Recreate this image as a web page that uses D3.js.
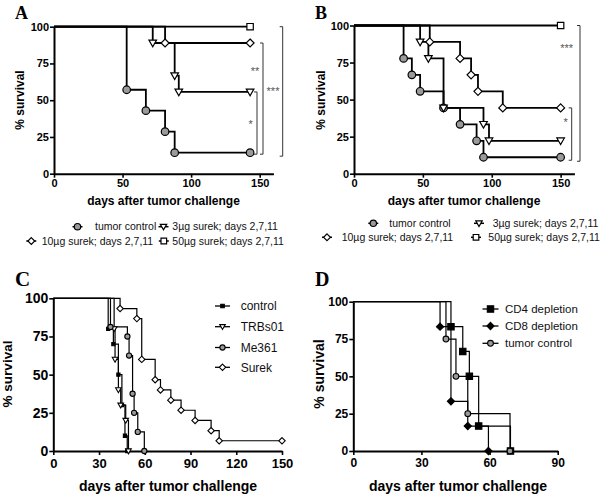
<!DOCTYPE html>
<html><head><meta charset="utf-8">
<script src="https://cdn.jsdelivr.net/npm/d3@7"></script>
<style>body{margin:0;background:#fff}</style>
</head><body>
<svg id="c" width="600" height="496"></svg>
<script>
// ---------- Panel A ----------
const aNames = ["tumor control", "3µg surek; days 2,7,11", "10µg surek; days 2,7,11", "50µg surek; days 2,7,11"];
const aTumorDays = [0, 53, 67, 81, 88, 143];
const aTumorSurv = [100, 57.1, 42.9, 28.6, 14.3, 14.3];
const a3Days = [0, 72, 88, 91, 143];
const a3Surv = [100, 88.9, 66.7, 55.6, 55.6];
const a10Days = [0, 81, 143];
const a10Surv = [100, 88.9, 88.9];
const a50Days = [0, 143];
const a50Surv = [100, 100];
const aXTicks = [0, 50, 100, 150];
const aSigLabels = ["*", "**", "***"];
const aSigFrom = [55.6, 88.9, 100];
const aSigTo = [14.3, 14.3, 14.3];

// ---------- Panel B ----------
const bNames = aNames;
const bTumorDays = [0, 36, 42, 48, 65, 77, 89, 94, 150];
const bTumorSurv = [100, 77.8, 66.7, 55.6, 44.4, 33.3, 22.2, 11.1, 11.1];
const b3Days = [0, 48, 54, 65, 94, 98, 150];
const b3Surv = [100, 88.9, 77.8, 44.4, 33.3, 22.2, 22.2];
const b10Days = [0, 55, 77, 85, 90, 108, 150];
const b10Surv = [100, 88.9, 77.8, 66.7, 55.6, 44.4, 44.4];
const b50Days = [0, 150];
const b50Surv = [100, 100];
const bXTicks = [0, 50, 100, 150];
const bSigLabels = ["***", "*"];
const bSigFrom = [100, 44.4];
const bSigTo = [11.1, 11.1];

// ---------- Panel C ----------
const cNames = ["control", "TRBs01", "Me361", "Surek"];
const cCtrlDays = [0, 36, 39.4, 42.7, 45, 47, 48.5];
const cCtrlSurv = [100, 80, 70, 50, 30, 10, 0];
const cTrbDays = [0, 39.9, 40.5, 42.7, 44.2, 47.5, 49.3];
const cTrbSurv = [100, 80, 60, 40, 30, 20, 0];
const cMeDays = [0, 37.5, 48.6, 49.7, 52, 53, 55.4, 59.7];
const cMeSurv = [100, 81.25, 75, 62.5, 37.5, 25, 12.5, 0];
const cSurekDays = [0, 43.8, 54.8, 58, 66.8, 70.3, 77.1, 83.8, 93, 103.5, 108.8, 150];
const cSurekSurv = [100, 93.3, 86.7, 60, 46.7, 40, 33.3, 26.7, 20, 13.3, 6.7, 6.7];
const cXTicks = [0, 30, 60, 90, 120, 150];

// ---------- Panel D ----------
const dNames = ["CD4 depletion", "CD8 depletion", "tumor control"];
const dCd4Days = [0, 43, 48.2, 51.1, 55.2, 69.2];
const dCd4Surv = [100, 83.3, 66.7, 50, 16.7, 0];
const dCd8Days = [0, 38.2, 43, 50.4, 59.5];
const dCd8Surv = [100, 83.3, 33.3, 16.7, 0];
const dTcDays = [0, 40.8, 45.2, 50.4, 69];
const dTcSurv = [100, 75, 50, 25, 0];
const dXTicks = [0, 30, 60, 90];

const yTicks = [0, 25, 50, 75, 100];
const xTitle = "days after tumor challenge";
const yTitle = "% survival";

const svg = d3.select("#c");
const SANS = "'Liberation Sans', Arial, sans-serif";
const SERIF = "'Liberation Serif', 'Times New Roman', serif";
const GRAY = "#9a9a9a";

function symPath(type, s) {
  if (type === "tri") return `M${-s},${-s * 0.75}L${s},${-s * 0.75}L0,${s}Z`;
  if (type === "diamond") return `M0,${-s}L${s},0L0,${s}L${-s},0Z`;
  if (type === "square") return `M${-s},${-s}H${s}V${s}H${-s}Z`;
  return "";
}
function marker(g, type, x, y, s, fill, sw) {
  if (type === "circle") {
    g.append("circle").attr("cx", x).attr("cy", y).attr("r", s)
      .attr("fill", fill).attr("stroke", "#000").attr("stroke-width", sw);
  } else {
    g.append("path").attr("d", symPath(type, s)).attr("transform", `translate(${x},${y})`)
      .attr("fill", fill).attr("stroke", "#000").attr("stroke-width", sw).attr("stroke-linejoin", "miter");
  }
}

function panel(cfg) {
  const x = d3.scaleLinear().domain(cfg.xDomain).range(cfg.xRange);
  const y = d3.scaleLinear().domain([0, 100]).range(cfg.yRange);
  const g = svg.append("g");

  const ya = g.append("g").attr("transform", `translate(${cfg.xRange[0]},0)`)
    .call(d3.axisLeft(y).tickValues(yTicks).tickSize(4).tickPadding(cfg.yPad).tickSizeOuter(0));
  const xa = g.append("g").attr("transform", `translate(0,${cfg.yRange[0]})`)
    .call(d3.axisBottom(x).tickValues(cfg.xTicks).tickSize(4).tickPadding(cfg.xPad).tickSizeOuter(0));
  [ya, xa].forEach(a => {
    a.select(".domain").attr("stroke-width", cfg.axisW).attr("stroke", "#000");
    a.selectAll(".tick line").attr("stroke-width", cfg.axisW * 0.8).attr("stroke", "#000");
    a.selectAll("text").attr("font-family", SANS).attr("font-weight", "bold")
      .attr("font-size", cfg.tickFont).attr("fill", "#000");
  });
  ya.selectAll("text").attr("font-size", cfg.yTickFont || cfg.tickFont);

  // titles
  g.append("text").attr("x", cfg.xTitlePos[0]).attr("y", cfg.xTitlePos[1]).attr("text-anchor", "middle")
    .attr("font-family", SANS).attr("font-weight", "bold").attr("font-size", cfg.titleFont).text(xTitle);
  g.append("text").attr("transform", `translate(${cfg.yTitlePos[0]},${cfg.yTitlePos[1]}) rotate(-90)`)
    .attr("text-anchor", "middle").attr("font-family", SANS).attr("font-weight", "bold")
    .attr("font-size", cfg.yTitleFont || cfg.titleFont).text(yTitle);
  g.append("text").attr("x", cfg.letterPos[0]).attr("y", cfg.letterPos[1])
    .attr("font-family", SERIF).attr("font-weight", "bold").attr("font-size", cfg.letterFont).text(cfg.letter);

  const line = d3.line().x(d => x(d[0])).y(d => y(d[1])).curve(d3.curveStepAfter);
  cfg.series.forEach(s => {
    const pts = s.days.map((d, i) => [d, s.surv[i]]);
    g.append("path").attr("d", line(pts)).attr("fill", "none").attr("stroke", "#000")
      .attr("stroke-width", cfg.lineW);
  });
  cfg.series.forEach(s => {
    s.days.forEach((d, i) => {
      if (i === 0) return;
      marker(g, s.type, x(d), y(s.surv[i]), s.size, s.fill, cfg.markW);
    });
  });

  // legend
  cfg.series.forEach((s, i) => {
    const [lx, ly, tx] = cfg.legendPos[i];
    g.append("line").attr("x1", lx - cfg.legHalf).attr("x2", lx + cfg.legHalf).attr("y1", ly).attr("y2", ly)
      .attr("stroke", "#000").attr("stroke-width", cfg.legLineW);
    marker(g, s.type, lx, ly, s.legSize || s.size, s.fill, cfg.markW);
    g.append("text").attr("x", tx).attr("y", ly).attr("dy", "0.36em").attr("font-family", SANS)
      .attr("font-size", cfg.legFont).attr("fill", "#111").text(s.name);
  });

  // significance brackets
  if (cfg.sig) {
    cfg.sig.labels.forEach((lab, i) => {
      const bx = cfg.sig.bx[i];
      const y1 = y(cfg.sig.from[i]), y2 = y(cfg.sig.to[i]) + cfg.sig.extra[i];
      g.append("path").attr("d", `M${bx - 3},${y1}H${bx}V${y2}H${bx - 3}`)
        .attr("fill", "none").attr("stroke", "#333").attr("stroke-width", 1);
      g.append("text").attr("x", cfg.sig.lx[i]).attr("y", cfg.sig.ly[i]).attr("text-anchor", "middle")
        .attr("font-family", SANS).attr("font-size", 11).attr("fill", "#555").text(lab);
    });
  }
}

// Panel A
panel({
  letter: "A", letterPos: [15, 18.5], letterFont: 18,
  xDomain: [0, 160], xRange: [54, 273.4], yRange: [173.7, 26.7], xTicks: aXTicks,
  xPad: 2, yPad: 1, axisW: 2, tickFont: 11, titleFont: 12, lineW: 1.8, markW: 1.2,
  xTitlePos: [163.5, 205], yTitlePos: [24, 100],
  series: [
    { name: aNames[0], days: aTumorDays, surv: aTumorSurv, type: "circle", size: 3.8, fill: GRAY, legSize: 3.2 },
    { name: aNames[1], days: a3Days, surv: a3Surv, type: "tri", size: 3.8, fill: "#fff", legSize: 3.2 },
    { name: aNames[2], days: a10Days, surv: a10Surv, type: "diamond", size: 4, fill: "#fff", legSize: 3.4 },
    { name: aNames[3], days: a50Days, surv: a50Surv, type: "square", size: 3.2, fill: "#fff", legSize: 2.8 }
  ],
  legendPos: [[77.5, 226.7, 95], [163.5, 226.7, 172.3], [31.3, 241, 41.7], [163.8, 241, 172.3]],
  legHalf: 5, legLineW: 1.5, legFont: 10.5,
  sig: { labels: aSigLabels, from: aSigFrom, to: aSigTo, bx: [257, 263, 282.7], extra: [1.5, 1.5, 3.5],
         lx: [250.7, 255, 273], ly: [128, 75, 94.5] }
});

// Panel B
panel({
  letter: "B", letterPos: [315, 18.5], letterFont: 18,
  xDomain: [0, 160], xRange: [354, 574.4], yRange: [173.7, 25.5], xTicks: bXTicks,
  xPad: 2, yPad: 1, axisW: 2, tickFont: 11, titleFont: 12, lineW: 1.8, markW: 1.2,
  xTitlePos: [464, 205], yTitlePos: [325, 100],
  series: [
    { name: bNames[0], days: bTumorDays, surv: bTumorSurv, type: "circle", size: 3.8, fill: GRAY, legSize: 3.2 },
    { name: bNames[1], days: b3Days, surv: b3Surv, type: "tri", size: 3.8, fill: "#fff", legSize: 3.2 },
    { name: bNames[2], days: b10Days, surv: b10Surv, type: "diamond", size: 4, fill: "#fff", legSize: 3.4 },
    { name: bNames[3], days: b50Days, surv: b50Surv, type: "square", size: 3.2, fill: "#fff", legSize: 2.8 }
  ],
  legendPos: [[373.3, 223.3, 389.3], [479, 223.3, 492.7], [327, 237.3, 341.7], [476, 237.3, 488.3]],
  legHalf: 5, legLineW: 1.5, legFont: 10.5,
  sig: { labels: bSigLabels, from: bSigFrom, to: bSigTo, bx: [580, 571.7], extra: [4, 3],
         lx: [566.7, 565.7], ly: [52, 126] }
});

// Panel C
panel({
  letter: "C", letterPos: [15, 286], letterFont: 21,
  xDomain: [0, 150], xRange: [53.3, 282], yRange: [451, 298.3], xTicks: cXTicks,
  xPad: 4, yPad: 1, axisW: 2, tickFont: 13, yTickFont: 14, titleFont: 14, yTitleFont: 13.5, lineW: 1.2, markW: 1.1,
  xTitlePos: [168, 491], yTitlePos: [12, 374],
  series: [
    { name: cNames[0], days: cCtrlDays, surv: cCtrlSurv, type: "square", size: 1.6, fill: "#000", legSize: 1.8 },
    { name: cNames[1], days: cTrbDays, surv: cTrbSurv, type: "tri", size: 2.8, fill: "#fff" },
    { name: cNames[2], days: cMeDays, surv: cMeSurv, type: "circle", size: 2.6, fill: GRAY },
    { name: cNames[3], days: cSurekDays, surv: cSurekSurv, type: "diamond", size: 3.2, fill: "#fff" }
  ],
  legendPos: [[222.5, 306, 240.7], [222.5, 326.7, 240.7], [222.5, 347.5, 240.7], [222.5, 367.3, 240.7]],
  legHalf: 7.5, legLineW: 1.3, legFont: 12
});

// Panel D
panel({
  letter: "D", letterPos: [315, 286], letterFont: 20,
  xDomain: [0, 90], xRange: [353.3, 557.7], yRange: [451, 301.7], xTicks: dXTicks,
  xPad: 3, yPad: 1, axisW: 2, tickFont: 12, titleFont: 14, lineW: 1.2, markW: 1.1,
  xTitlePos: [458, 491], yTitlePos: [324, 374],
  series: [
    { name: dNames[0], days: dCd4Days, surv: dCd4Surv, type: "square", size: 3.2, fill: "#000" },
    { name: dNames[1], days: dCd8Days, surv: dCd8Surv, type: "diamond", size: 3.6, fill: "#000" },
    { name: dNames[2], days: dTcDays, surv: dTcSurv, type: "circle", size: 2.9, fill: GRAY }
  ],
  legendPos: [[490.5, 309, 505], [490.5, 326, 505], [490.5, 343.3, 505]],
  legHalf: 8, legLineW: 1.3, legFont: 11.5
});
</script>
</body></html>
